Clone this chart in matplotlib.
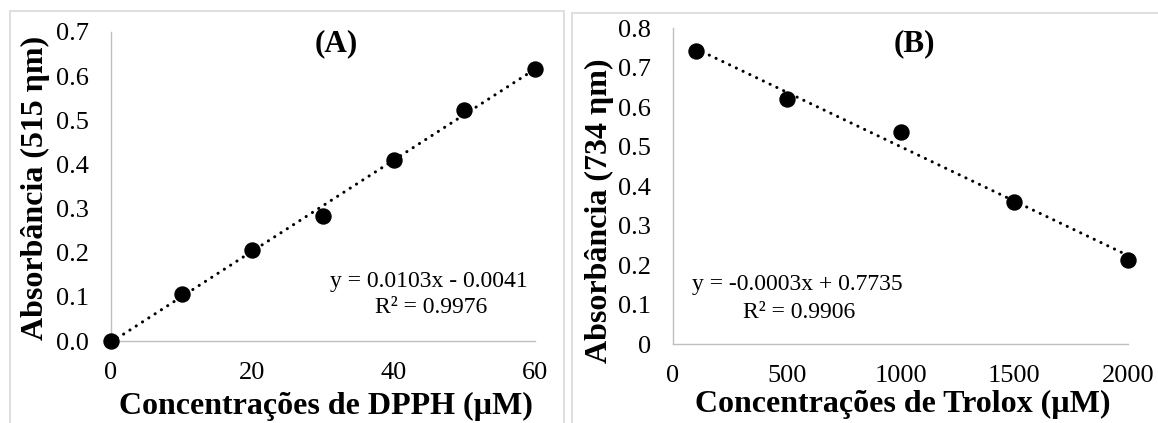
import numpy as np
import matplotlib
matplotlib.use("Agg")
import matplotlib.pyplot as plt
from matplotlib.patches import Rectangle

# ---------------- data ----------------
dpph_conc = [0, 10, 20, 30, 40, 50, 60]
dpph_abs = [0.000, 0.106, 0.207, 0.283, 0.410, 0.524, 0.616]
dpph_yticks = [0.0, 0.1, 0.2, 0.3, 0.4, 0.5, 0.6, 0.7]
dpph_yticklabels = ["0.0", "0.1", "0.2", "0.3", "0.4", "0.5", "0.6", "0.7"]
dpph_xticks = [0, 20, 40, 60]
dpph_eq = "y = 0.0103x - 0.0041"
dpph_r2 = "R² = 0.9976"

trolox_conc = [100, 500, 1000, 1500, 2000]
trolox_abs = [0.743, 0.620, 0.536, 0.360, 0.212]
trolox_yticks = [0, 0.1, 0.2, 0.3, 0.4, 0.5, 0.6, 0.7, 0.8]
trolox_yticklabels = ["0", "0.1", "0.2", "0.3", "0.4", "0.5", "0.6", "0.7", "0.8"]
trolox_xticks = [0, 500, 1000, 1500, 2000]
trolox_eq = "y = -0.0003x + 0.7735"
trolox_r2 = "R² = 0.9906"

W, H = 1158, 423
plt.rcParams['font.family'] = ['Liberation Serif', 'DejaVu Serif']
fig = plt.figure(figsize=(W / 100, H / 100), dpi=100)

def fx(px):
    return px / W

def fy(py):
    return (H - py) / H

# panel borders
for (x0, x1, y0) in [(10, 564, 11), (571.5, 1170, 12.7)]:
    fig.patches.append(Rectangle((fx(x0), fy(440)), fx(x1) - fx(x0), fy(y0) - fy(440),
                                 transform=fig.transFigure, fill=False,
                                 edgecolor="#d9d9d9", linewidth=1.2, zorder=0))

def panel(rect, x, y, xlim, ylim, xticks, yticks, yticklabels):
    l, r, b, t = rect
    ax = fig.add_axes([fx(l), fy(b), fx(r) - fx(l), fy(t) - fy(b)])
    ax.set_xlim(*xlim)
    ax.set_ylim(*ylim)
    for s in ["top", "right"]:
        ax.spines[s].set_visible(False)
    for s in ["left", "bottom"]:
        ax.spines[s].set_color("#bfbfbf")
        ax.spines[s].set_linewidth(1.0)
    ax.set_xticks(xticks)
    ax.set_xticklabels([str(v) for v in xticks])
    ax.set_yticks(yticks)
    ax.set_yticklabels(yticklabels)
    ax.tick_params(axis="both", length=0, labelsize=19)
    ax.tick_params(axis="y", pad=16)
    ax.tick_params(axis="x", pad=15)
    ax.patch.set_visible(False)
    coef = np.polyfit(x, y, 1)
    xs = np.array([min(x), max(x)])
    ax.plot(xs, np.polyval(coef, xs), color="black", linewidth=2.2,
            linestyle=(0, (0.05, 2.4)), dash_capstyle="round", zorder=2)
    ax.plot(x, y, "o", color="black", markersize=10.8, clip_on=False, zorder=3)
    return ax

axA = panel((111, 535, 341, 32), dpph_conc, dpph_abs, (0, 60), (0, 0.7),
            dpph_xticks, dpph_yticks, dpph_yticklabels)
axB = panel((673, 1128, 344, 28), trolox_conc, trolox_abs, (0, 2000), (0, 0.8),
            trolox_xticks, trolox_yticks, trolox_yticklabels)

# titles
fig.text(fx(336.5), fy(51), "(A)", fontsize=22.5, fontweight="bold", ha="center", va="baseline")
fig.text(fx(914), fy(51), "(B)", fontsize=22.5, fontweight="bold", ha="center", va="baseline")

# axis labels
fig.text(fx(326), fy(414), "Concentrações de DPPH (µM)", fontsize=23, fontweight="bold",
         ha="center", va="baseline")
fig.text(fx(903), fy(412), "Concentrações de Trolox (µM)", fontsize=23, fontweight="bold",
         ha="center", va="baseline")
fig.text(fx(35), fy(187.5), "Absorbância (515 ηm)", fontsize=23, fontweight="bold",
         ha="center", va="center", rotation=90)
fig.text(fx(599), fy(211), "Absorbância (734 ηm)", fontsize=23, fontweight="bold",
         ha="center", va="center", rotation=90)

# trendline equations
fig.text(fx(429), fy(287), dpph_eq, fontsize=17, ha="center", va="baseline")
fig.text(fx(431), fy(313), dpph_r2, fontsize=17, ha="center", va="baseline")
fig.text(fx(797), fy(290), trolox_eq, fontsize=17, ha="center", va="baseline")
fig.text(fx(799), fy(318), trolox_r2, fontsize=17, ha="center", va="baseline")

fig.savefig("out.png", dpi=100)
